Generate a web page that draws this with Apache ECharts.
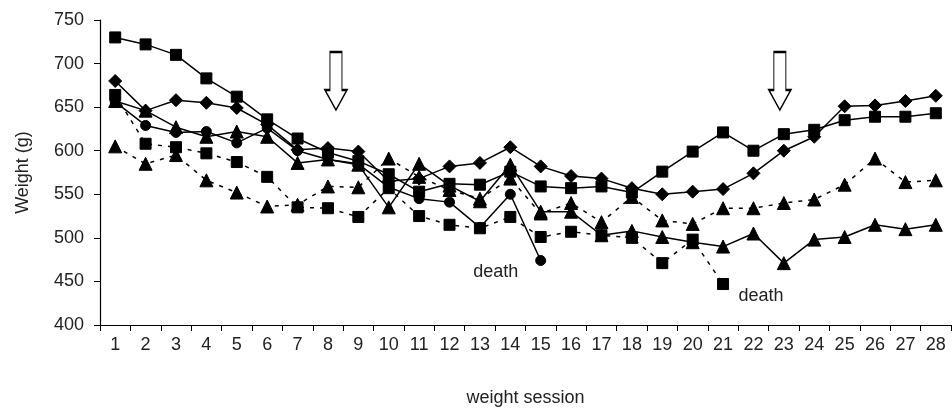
<!DOCTYPE html>
<html>
<head>
<meta charset="utf-8">
<script src="https://cdn.jsdelivr.net/npm/echarts@6/dist/echarts.min.js"></script>
<style>
html,body{margin:0;padding:0;background:#fff;}
#chart{width:952px;height:408px;}
</style>
</head>
<body>
<div id="chart"></div>
<script>
const categories = ['1','2','3','4','5','6','7','8','9','10','11','12','13','14','15','16','17','18','19','20','21','22','23','24','25','26','27','28'];
const yTicks = [400, 450, 500, 550, 600, 650, 700, 750];

// solid squares (top)
const squareSolid = [730,722,710,683,662,636,614,598,588,573,553,562,561,576,559,557,559,552,576,599,621,600,619,624,635,639,639,643];
// solid diamonds
const diamondSolid = [680,646,658,655,649,630,601,603,599,565,568,582,586,604,582,571,568,557,550,553,556,574,600,616,651,652,657,663];
// solid circles (death at session 15)
const circleSolid = [656,629,621,622,609,626,600,590,585,558,545,541,512,550,474,null,null,null,null,null,null,null,null,null,null,null,null,null];
// solid triangles
const triangleSolid = [657,646,627,616,622,616,586,590,584,535,585,560,542,584,530,530,503,508,501,495,490,505,471,498,501,515,510,515];
// dashed triangles
const triangleDashed = [605,585,595,566,552,536,538,559,558,591,570,555,545,568,528,540,518,547,520,516,534,534,540,544,561,591,564,566];
// dashed squares (death at session 21)
const squareDashed = [664,608,604,597,587,570,535,534,524,557,525,515,511,524,501,507,503,500,471,498,447,null,null,null,null,null,null,null];

const deathText = 'death';
const FONT = "'Liberation Sans', Arial, sans-serif";
const arrowPath = 'path://M5,0 L17,0 L17,38 L22,38 L11,58 L0,38 L5,38 Z';

const chart = echarts.init(document.getElementById('chart'), null, {renderer: 'canvas'});

function mk(name, data, symbol, size, dashed) {
  return {
    name: name,
    type: 'line',
    data: data,
    symbol: symbol,
    symbolSize: size,
    showSymbol: true,
    connectNulls: false,
    animation: false,
    lineStyle: {color: '#000', width: 1.5, type: dashed ? [4, 6] : 'solid'},
    itemStyle: {color: '#000', borderColor: '#000'},
    emphasis: {disabled: true}
  };
}

const sA = mk('A', squareSolid, 'rect', 11, false);
sA.markPoint = {
  animation: false,
  symbol: arrowPath,
  symbolKeepAspect: false,
  symbolSize: [22, 58],
  itemStyle: {color: '#fff', borderColor: '#000', borderWidth: 1.5},
  label: {show: false},
  data: [
    {coord: [7, 680], symbolOffset: [8, 0]},
    {coord: [22, 680], symbolOffset: [-4, 0]}
  ]
};
const sB = mk('B', diamondSolid, 'diamond', 13, false);
const sC = mk('C', circleSolid, 'circle', 10, false);
sC.markPoint = {
  animation: false,
  symbol: 'circle',
  symbolSize: 1,
  itemStyle: {color: 'rgba(0,0,0,0)'},
  label: {show: true, formatter: deathText, position: 'inside', offset: [-45, 12], color: '#222', fontSize: 18, fontFamily: FONT},
  data: [{coord: [14, circleSolid[14]]}]
};
const sD = mk('D', triangleSolid, 'triangle', 13, false);
const sE = mk('E', triangleDashed, 'triangle', 13, true);
const sF = mk('F', squareDashed, 'rect', 11, true);
sF.markPoint = {
  animation: false,
  symbol: 'circle',
  symbolSize: 1,
  itemStyle: {color: 'rgba(0,0,0,0)'},
  label: {show: true, formatter: deathText, position: 'inside', offset: [38, 12], color: '#222', fontSize: 18, fontFamily: FONT},
  data: [{coord: [20, squareDashed[20]]}]
};

chart.setOption({
  backgroundColor: '#fff',
  animation: false,
  grid: {left: 100, right: 1, top: 20, bottom: 83, containLabel: false, outerBoundsMode: 'none'},
  xAxis: {
    type: 'category',
    data: categories,
    boundaryGap: true,
    name: 'weight session',
    nameLocation: 'middle',
    nameGap: 64,
    nameTextStyle: {color: '#222', fontSize: 18, fontFamily: FONT},
    axisLine: {lineStyle: {color: '#000', width: 1.2}},
    axisTick: {show: true, alignWithLabel: false, length: 6, lineStyle: {color: '#000'}},
    axisLabel: {color: '#222', fontSize: 18, fontFamily: FONT, margin: 11, interval: 0},
    splitLine: {show: false}
  },
  yAxis: {
    type: 'value',
    min: yTicks[0],
    max: yTicks[yTicks.length - 1],
    interval: 50,
    name: 'Weight (g)',
    nameLocation: 'middle',
    nameGap: 68,
    nameRotate: 90,
    nameTextStyle: {color: '#222', fontSize: 18, fontFamily: FONT},
    axisLine: {show: true, lineStyle: {color: '#000', width: 1.2}},
    axisTick: {show: true, length: 6, lineStyle: {color: '#000'}},
    axisLabel: {color: '#222', fontSize: 18, fontFamily: FONT, margin: 16},
    splitLine: {show: false}
  },
  series: [sF, sE, sC, sD, sB, sA]
});
</script>
</body>
</html>
